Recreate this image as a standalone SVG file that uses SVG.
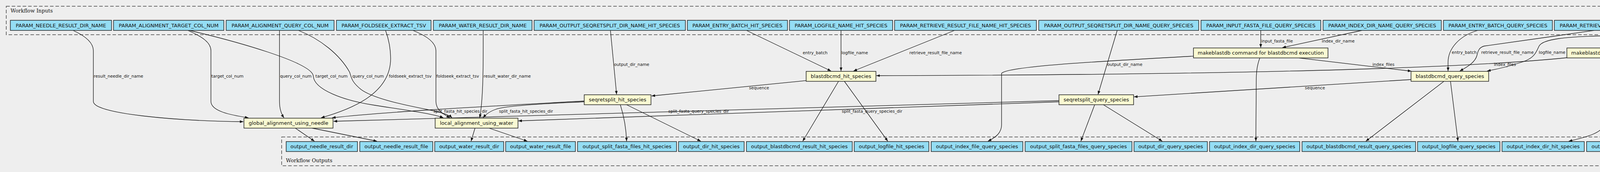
<svg xmlns="http://www.w3.org/2000/svg" width="5260" height="441" viewBox="0 0 5260 441">
<style>
.bg{fill:#eeeeee}
.cl{fill:none;stroke:#444;stroke-width:1.5;stroke-dasharray:9,5}
.clt{font-family:"DejaVu Serif","Liberation Serif",serif;font-size:13px;fill:#111}
.io rect{fill:#94ddf4;stroke:#222;stroke-width:1.5}
.st rect{fill:#fafad2;stroke:#222;stroke-width:1.5}
.io text,.st text{font-family:"DejaVu Sans","Liberation Sans",sans-serif;font-size:13px;fill:#111;text-anchor:middle}
#edges path{fill:none;stroke:#111;stroke-width:1.3;marker-end:url(#ah)}
#edges text{font-family:"DejaVu Sans","Liberation Sans",sans-serif;font-size:10.67px;fill:#111}
</style>
<defs>
<marker id="ah" markerUnits="userSpaceOnUse" markerWidth="10" markerHeight="7" refX="9" refY="3.5" orient="auto">
<path d="M0,0 L9,3.5 L0,7 z" fill="#111"/>
</marker>
</defs>
<rect class="bg" x="0" y="0" width="5260" height="441"/>
<g id="cluster_inputs">
<rect class="cl" x="16" y="16" width="5228" height="73"/>
<text class="clt" x="27" y="32">Workflow Inputs</text>
</g>
<g id="cluster_outputs">
<rect class="cl" x="721" y="351.3" width="3567" height="73.7"/>
<text class="clt" x="732" y="416">Workflow Outputs</text>
</g>
<g id="edges">
<path d="M187,78 C220,93 239,110 239,130 L239,260 C239,292 450,310 623,312"/>
<text x="240" y="199">result_needle_dir_name</text>
<path d="M481,78 C520,95 540,110 540,130 L540,260 C540,285 590,295 636,302"/>
<text x="541" y="199">target_col_num</text>
<path d="M485,78 C600,105 800,160 802,195 C804,230 880,258 960,270 C1050,284 1110,292 1135,302"/>
<text x="807.5" y="199">target_col_num</text>
<path d="M715.5,78 L715.5,260 C715.5,280 720,292 727,302"/>
<text x="717" y="199">query_col_num</text>
<path d="M764,78 C820,100 870,140 895,185 C900,200 900,210 925,230 C960,255 1050,272 1100,282 C1130,288 1150,295 1157,302"/>
<text x="902" y="199">query_col_num</text>
<path d="M987,78 C995,100 1000,125 1000,150 C1000,240 900,280 822,302"/>
<text x="995.5" y="199">foldseek_extract_tsv</text>
<path d="M1057,78 C1095,93 1116,110 1116,130 L1116,260 C1116,282 1135,293 1152,302"/>
<text x="1117" y="199">foldseek_extract_tsv</text>
<path d="M1237,78 C1237,150 1238,250 1228,302"/>
<text x="1238" y="199">result_water_dir_name</text>
<path d="M1495,259 C1300,270 1000,285 850,302"/>
<text x="1109.5" y="288.5">split_fasta_hit_species_dir</text>
<path d="M1495,261 C1400,266 1300,270 1270,280 C1250,287 1242,295 1237,302"/>
<text x="1277.5" y="288.5">split_fasta_hit_species_dir</text>
<path d="M2711,258 L854,311"/>
<text x="1711" y="288.5">split_fasta_query_species_dir</text>
<path d="M2711,261 L1327,310"/>
<text x="2155" y="288.5">split_fasta_query_species_dir</text>
<path d="M1562.7,78 L1578.5,242"/>
<text x="1572" y="168.5">output_dir_name</text>
<path d="M2860,78 L2811,242"/>
<text x="2834.4" y="168.5">output_dir_name</text>
<path d="M2063.7,206.7 L1668,246"/>
<text x="1917.5" y="228.5">sequence</text>
<path d="M3612,204 L2903,248.3"/>
<text x="3340.6" y="228.5">sequence</text>
<path d="M1911,78 L2127.4,182"/>
<text x="2055" y="138.5">entry_batch</text>
<path d="M2153,78 L2153,182"/>
<text x="2154" y="138.5">logfile_name</text>
<path d="M2443.6,78 L2185,182"/>
<text x="2328" y="138.5">retrieve_result_file_name</text>
<path d="M4011,148 C3700,180 3000,192 2243.5,194"/>
<text x="3824.6" y="168.5">index_files</text>
<path d="M3325.6,148.7 L3613,182.5"/>
<text x="3513.6" y="168.5">index_files</text>
<path d="M3055,144 C2800,158 2580,170 2564,188 L2564,320 C2564,340 2550,352 2529,362"/>
<path d="M3225,149 C3217,170 3216,190 3216,210 L3215,362"/>
<path d="M3227.5,78 L3227.5,122"/>
<text x="3229" y="108.5">input_fasta_file</text>
<path d="M3486.7,78 L3283,122"/>
<text x="3383.7" y="108.5">index_dir_name</text>
<path d="M3783,78 C3735,92 3707,125 3707,160 L3707,182"/>
<text x="3716.6" y="137.5">entry_batch</text>
<path d="M4081,78 L3970,94 L3800,118 C3788,121 3784,128 3781,142 C3777,158 3760,170 3737,182"/>
<text x="3792" y="137.5">retrieve_result_file_name</text>
<path d="M4445,78 C4400,86 4370,90 4300,91 L4100,92 C4010,94 3950,100 3940,118 C3932,135 3928,148 3900,158 C3870,168 3835,177 3807,182"/>
<text x="3939.3" y="137.5">logfile_name</text>
<path d="M4734.7,78 C4650,92 4500,105 4328,122"/>
<text x="4554" y="108.5">index_dir_name</text>
<path d="M5025,78 C4950,90 4800,106 4600,117 L4357.5,129.3"/>
<text x="4820" y="108.5">input_fasta_file</text>
<path d="M4146,149 C4115,162 4104,175 4104,190 L4104,320 C4104,340 4060,352 4016,362"/>
<path d="M4181,149 C4176,200 4173,300 4173,362"/>
<path d="M756,328.5 L805,362"/>
<path d="M799,328.5 L965,362"/>
<path d="M1216,328.5 L1206,362"/>
<path d="M1252,328.5 L1350,362"/>
<path d="M1588,268.5 C1598,300 1603,330 1604,362"/>
<path d="M1604,268.5 L1794,362"/>
<path d="M2146.6,208.5 L2055,362"/>
<path d="M2161.6,208.5 L2272.7,362"/>
<path d="M2802.4,268.5 L2767,362"/>
<path d="M2824.6,268.5 L2975.4,362"/>
<path d="M3696.5,208.5 L3496.6,362"/>
<path d="M3713.2,208.5 L3732.4,362"/>
</g>
<g id="PARAM_NEEDLE_RESULT_DIR_NAME" class="io"><rect x="26.5" y="52" width="259" height="26"/><text x="156" y="69.5">PARAM_NEEDLE_RESULT_DIR_NAME</text></g>
<g id="PARAM_ALIGNMENT_TARGET_COL_NUM" class="io"><rect x="290.6" y="52" width="282.4" height="26"/><text x="431.8" y="69.5">PARAM_ALIGNMENT_TARGET_COL_NUM</text></g>
<g id="PARAM_ALIGNMENT_QUERY_COL_NUM" class="io"><rect x="579" y="52" width="276.3" height="26"/><text x="717.1" y="69.5">PARAM_ALIGNMENT_QUERY_COL_NUM</text></g>
<g id="PARAM_FOLDSEEK_EXTRACT_TSV" class="io"><rect x="861.3" y="52" width="242.2" height="26"/><text x="982.4" y="69.5">PARAM_FOLDSEEK_EXTRACT_TSV</text></g>
<g id="PARAM_WATER_RESULT_DIR_NAME" class="io"><rect x="1109.5" y="52" width="252.4" height="26"/><text x="1235.7" y="69.5">PARAM_WATER_RESULT_DIR_NAME</text></g>
<g id="PARAM_OUTPUT_SEQRETSPLIT_DIR_NAME_HIT_SPECIES" class="io"><rect x="1367.4" y="52" width="387.2" height="26"/><text x="1561" y="69.5">PARAM_OUTPUT_SEQRETSPLIT_DIR_NAME_HIT_SPECIES</text></g>
<g id="PARAM_ENTRY_BATCH_HIT_SPECIES" class="io"><rect x="1759.7" y="52" width="256.2" height="26"/><text x="1887.8" y="69.5">PARAM_ENTRY_BATCH_HIT_SPECIES</text></g>
<g id="PARAM_LOGFILE_NAME_HIT_SPECIES" class="io"><rect x="2021" y="52" width="264.1" height="26"/><text x="2153" y="69.5">PARAM_LOGFILE_NAME_HIT_SPECIES</text></g>
<g id="PARAM_RETRIEVE_RESULT_FILE_NAME_HIT_SPECIES" class="io"><rect x="2290.2" y="52" width="363" height="26"/><text x="2471.7" y="69.5">PARAM_RETRIEVE_RESULT_FILE_NAME_HIT_SPECIES</text></g>
<g id="PARAM_OUTPUT_SEQRETSPLIT_DIR_NAME_QUERY_SPECIES" class="io"><rect x="2659.2" y="52" width="409.4" height="26"/><text x="2863.9" y="69.5">PARAM_OUTPUT_SEQRETSPLIT_DIR_NAME_QUERY_SPECIES</text></g>
<g id="PARAM_INPUT_FASTA_FILE_QUERY_SPECIES" class="io"><rect x="3074.6" y="52" width="306.6" height="26"/><text x="3227.9" y="69.5">PARAM_INPUT_FASTA_FILE_QUERY_SPECIES</text></g>
<g id="PARAM_INDEX_DIR_NAME_QUERY_SPECIES" class="io"><rect x="3387.2" y="52" width="302.5" height="26"/><text x="3538.4" y="69.5">PARAM_INDEX_DIR_NAME_QUERY_SPECIES</text></g>
<g id="PARAM_ENTRY_BATCH_QUERY_SPECIES" class="io"><rect x="3695.3" y="52" width="278.8" height="26"/><text x="3834.7" y="69.5">PARAM_ENTRY_BATCH_QUERY_SPECIES</text></g>
<g id="PARAM_RETRIEVE_RESULT_FILE_NAME_QUERY_SPECIES" class="io"><rect x="3979.2" y="52" width="385" height="26"/><text x="4171.7" y="69.5">PARAM_RETRIEVE_RESULT_FILE_NAME_QUERY_SPECIES</text></g>
<g id="PARAM_LOGFILE_NAME_QUERY_SPECIES" class="io"><rect x="4369.8" y="52" width="286.6" height="26"/><text x="4513.1" y="69.5">PARAM_LOGFILE_NAME_QUERY_SPECIES</text></g>
<g id="PARAM_INDEX_DIR_NAME_HIT_SPECIES" class="io"><rect x="4661.9" y="52" width="281.1" height="26"/><text x="4802.5" y="69.5">PARAM_INDEX_DIR_NAME_HIT_SPECIES</text></g>
<g id="PARAM_INPUT_FASTA_FILE_HIT_SPECIES" class="io"><rect x="4948.5" y="52" width="284.1" height="26"/><text x="5090.5" y="69.5">PARAM_INPUT_FASTA_FILE_HIT_SPECIES</text></g>
<g id="global_alignment_using_needle" class="st"><rect x="624.5" y="303" width="228" height="25.5"/><text x="738.5" y="320">global_alignment_using_needle</text></g>
<g id="local_alignment_using_water" class="st"><rect x="1114" y="303" width="212" height="25.5"/><text x="1220" y="320">local_alignment_using_water</text></g>
<g id="seqretsplit_hit_species" class="st"><rect x="1495.6" y="243" width="170.9" height="25.5"/><text x="1581" y="260">seqretsplit_hit_species</text></g>
<g id="blastdbcmd_hit_species" class="st"><rect x="2063.7" y="183" width="178.7" height="25.5"/><text x="2153" y="200">blastdbcmd_hit_species</text></g>
<g id="seqretsplit_query_species" class="st"><rect x="2711" y="243" width="191" height="25.5"/><text x="2806.5" y="260">seqretsplit_query_species</text></g>
<g id="makeblastdb_query_species" class="st"><rect x="3055.3" y="123" width="344.3" height="25.5"/><text x="3227.5" y="140">makeblastdb command for blastdbcmd execution</text></g>
<g id="blastdbcmd_query_species" class="st"><rect x="3612.3" y="183" width="198.7" height="25.5"/><text x="3711.6" y="200">blastdbcmd_query_species</text></g>
<g id="makeblastdb_hit_species" class="st"><rect x="4011.3" y="123" width="344.8" height="25.5"/><text x="4183.7" y="140">makeblastdb command for blastdbcmd execution</text></g>
<g id="output_needle_result_dir" class="io"><rect x="732.6" y="363" width="182.5" height="25.5"/><text x="823.8" y="380">output_needle_result_dir</text></g>
<g id="output_needle_result_file" class="io"><rect x="921.1" y="363" width="186.7" height="25.5"/><text x="1014.5" y="380">output_needle_result_file</text></g>
<g id="output_water_result_dir" class="io"><rect x="1112.9" y="363" width="176.5" height="25.5"/><text x="1201.1" y="380">output_water_result_dir</text></g>
<g id="output_water_result_file" class="io"><rect x="1294.5" y="363" width="178.5" height="25.5"/><text x="1383.7" y="380">output_water_result_file</text></g>
<g id="output_split_fasta_files_hit_species" class="io"><rect x="1478.5" y="363" width="253.4" height="25.5"/><text x="1605.2" y="380">output_split_fasta_files_hit_species</text></g>
<g id="output_dir_hit_species" class="io"><rect x="1737" y="363" width="168" height="25.5"/><text x="1821" y="380">output_dir_hit_species</text></g>
<g id="output_blastdbcmd_result_hit_species" class="io"><rect x="1910.9" y="363" width="270.8" height="25.5"/><text x="2046.3" y="380">output_blastdbcmd_result_hit_species</text></g>
<g id="output_logfile_hit_species" class="io"><rect x="2186.8" y="363" width="191" height="25.5"/><text x="2282.3" y="380">output_logfile_hit_species</text></g>
<g id="output_index_file_query_species" class="io"><rect x="2383.8" y="363" width="234.6" height="25.5"/><text x="2501.1" y="380">output_index_file_query_species</text></g>
<g id="output_split_fasta_files_query_species" class="io"><rect x="2624.4" y="363" width="273.3" height="25.5"/><text x="2761" y="380">output_split_fasta_files_query_species</text></g>
<g id="output_dir_query_species" class="io"><rect x="2903.2" y="363" width="187.6" height="25.5"/><text x="2997" y="380">output_dir_query_species</text></g>
<g id="output_index_dir_query_species" class="io"><rect x="3096.4" y="363" width="230.9" height="25.5"/><text x="3211.8" y="380">output_index_dir_query_species</text></g>
<g id="output_blastdbcmd_result_query_species" class="io"><rect x="3333.3" y="363" width="290.6" height="25.5"/><text x="3478.6" y="380">output_blastdbcmd_result_query_species</text></g>
<g id="output_logfile_query_species" class="io"><rect x="3629" y="363" width="210.7" height="25.5"/><text x="3734.3" y="380">output_logfile_query_species</text></g>
<g id="output_index_dir_hit_species" class="io"><rect x="3845.3" y="363" width="210.4" height="25.5"/><text x="3950.5" y="380">output_index_dir_hit_species</text></g>
<g id="output_index_file_hit_species" class="io"><rect x="4061.7" y="363" width="214.9" height="25.5"/><text x="4169.1" y="380">output_index_file_hit_species</text></g>
</svg>
